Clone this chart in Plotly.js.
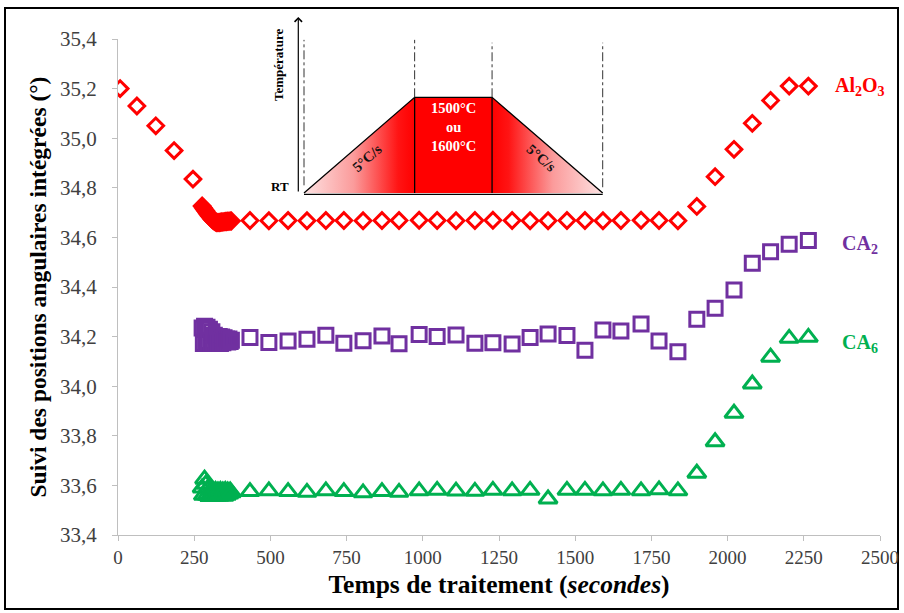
<!DOCTYPE html>
<html><head><meta charset="utf-8">
<script src="https://cdn.plot.ly/plotly-3.0.1.min.js"></script>
<style>body{margin:0;background:#fff}#chart{width:904px;height:613px}</style>
</head><body><div id="chart"></div>
<script>
// ---------- data ----------
const heatTimes = [7, 62, 124, 184, 246];
const al2o3Heat = [35.20, 35.13, 35.05, 34.95, 34.835];

const clusterTimes = [276, 280, 284, 288, 292, 296, 300, 304, 308, 312, 316, 320, 324, 328, 332, 336, 340, 344, 348, 352, 356, 360, 364, 368, 372];
const al2o3Cluster = [34.727, 34.720, 34.713, 34.706, 34.699, 34.692, 34.686, 34.680, 34.674, 34.669, 34.665, 34.662, 34.660, 34.660, 34.660, 34.661, 34.662, 34.662, 34.663, 34.664, 34.664, 34.665, 34.665, 34.666, 34.666];
const ca2Cluster = [34.235, 34.172, 34.242, 34.175, 34.238, 34.180, 34.230, 34.172, 34.220, 34.175, 34.205, 34.172, 34.200, 34.175, 34.200, 34.172, 34.198, 34.175, 34.195, 34.180, 34.190, 34.178, 34.190, 34.180, 34.185];
const ca6Cluster = [33.590, 33.560, 33.625, 33.605, 33.560, 33.590, 33.555, 33.580, 33.558, 33.578, 33.556, 33.580, 33.557, 33.578, 33.556, 33.580, 33.558, 33.578, 33.556, 33.580, 33.560, 33.578, 33.565, 33.578, 33.570];

const holdTimes = [433, 495, 558, 620, 682, 741, 804, 866, 922, 988, 1047, 1109, 1171, 1230, 1293, 1352, 1411, 1473, 1532, 1591, 1650, 1716, 1775, 1837];
const al2o3Hold = [34.668, 34.667, 34.668, 34.667, 34.668, 34.668, 34.667, 34.668, 34.668, 34.669, 34.668, 34.667, 34.668, 34.669, 34.668, 34.667, 34.667, 34.668, 34.668, 34.667, 34.668, 34.669, 34.668, 34.667];
const ca2Hold = [34.196, 34.176, 34.182, 34.189, 34.205, 34.173, 34.183, 34.202, 34.171, 34.208, 34.200, 34.206, 34.173, 34.175, 34.170, 34.196, 34.210, 34.204, 34.145, 34.227, 34.223, 34.251, 34.182, 34.139];
const ca6Hold = [33.575, 33.578, 33.575, 33.572, 33.578, 33.575, 33.570, 33.575, 33.572, 33.578, 33.580, 33.577, 33.576, 33.580, 33.578, 33.580, 33.545, 33.580, 33.580, 33.578, 33.580, 33.578, 33.582, 33.578];

const coolTimes = [1899, 1959, 2021, 2081, 2141, 2202, 2265];
const al2o3Cool = [34.725, 34.845, 34.955, 35.060, 35.152, 35.210, 35.210];
const ca2Cool = [34.270, 34.314, 34.388, 34.496, 34.542, 34.572, 34.587];
const ca6Cool = [33.649, 33.776, 33.891, 34.009, 34.117, 34.193, 34.197];

const seriesNames = ['Al<sub>2</sub>O<sub>3</sub>', 'CA<sub>2</sub>', 'CA<sub>6</sub>'];
const seriesColors = ['#FF0000', '#7030A0', '#00B050'];

const xTickVals = [0, 250, 500, 750, 1000, 1250, 1500, 1750, 2000, 2250, 2500];
const yTickVals = [33.4, 33.6, 33.8, 34.0, 34.2, 34.4, 34.6, 34.8, 35.0, 35.2, 35.4];
const yTickText = ['33,4', '33,6', '33,8', '34,0', '34,2', '34,4', '34,6', '34,8', '35,0', '35,2', '35,4'];

// inset schematic (heating / hold / cooling)
const schemeX = [0, 1, 1.7, 2.7];
const schemeY = [0, 1, 1, 0];
const holdLabel = '1500°C<br>ou<br>1600°C';
const rampLabel = '5°C/s';

// ---------- build ----------
const serif = 'Liberation Serif, Times New Roman, serif';
function series(name, xs, ys, symbol, size, color) {
  return {type: 'scatter', mode: 'markers', name: name, x: xs, y: ys, hoverinfo: 'x+y',
    marker: {symbol: symbol, size: size, color: color, line: {width: 3, color: color}}};
}
const traces = [
  series(seriesNames[0], [].concat(heatTimes, clusterTimes, holdTimes, coolTimes),
         [].concat(al2o3Heat, al2o3Cluster, al2o3Hold, al2o3Cool), 'diamond-open', 12, seriesColors[0]),
  series(seriesNames[1], [].concat(clusterTimes, holdTimes, coolTimes),
         [].concat(ca2Cluster, ca2Hold, ca2Cool), 'square-open', 14, seriesColors[1]),
  series(seriesNames[2], [].concat(clusterTimes, holdTimes, coolTimes),
         [].concat(ca6Cluster, ca6Hold, ca6Cool), 'triangle-up-open', 16, seriesColors[2])
];

// inset traces
const pale = '#fde2e2';
const inset = {xaxis: 'x2', yaxis: 'y2', hoverinfo: 'skip', showlegend: false, type: 'scatter'};
traces.push(Object.assign({}, inset, {
  x: [schemeX[0], schemeX[1], schemeX[1], schemeX[0]], y: [schemeY[0], schemeY[1], schemeY[0], schemeY[0]],
  mode: 'lines', fill: 'toself', line: {width: 0},
  fillgradient: {type: 'horizontal', colorscale: [[0, pale], [0.45, '#fb9b9b'], [0.85, '#ff1414'], [1, '#ff0000']]}
}));
traces.push(Object.assign({}, inset, {
  x: [schemeX[1], schemeX[1], schemeX[2], schemeX[2], schemeX[1]], y: [schemeY[0], schemeY[1], schemeY[2], schemeY[3], schemeY[0]],
  mode: 'lines', fill: 'toself', fillcolor: '#ff0000', line: {width: 0}
}));
traces.push(Object.assign({}, inset, {
  x: [schemeX[2], schemeX[3], schemeX[2], schemeX[2]], y: [schemeY[2], schemeY[3], schemeY[3], schemeY[2]],
  mode: 'lines', fill: 'toself', line: {width: 0},
  fillgradient: {type: 'horizontal', colorscale: [[0, '#ff0000'], [0.15, '#ff1414'], [0.55, '#fb9b9b'], [1, pale]]}
}));
// outline + dividers + baseline
traces.push(Object.assign({}, inset, {
  x: schemeX.concat([null, schemeX[1], schemeX[1], null, schemeX[2], schemeX[2], null, schemeX[0], schemeX[3]]),
  y: schemeY.concat([null, 0, 1, null, 0, 1, null, -0.015, -0.015]),
  mode: 'lines', line: {color: '#000', width: 1.3}
}));
// dash-dot guides
traces.push(Object.assign({}, inset, {
  x: [schemeX[0], schemeX[0], null, schemeX[1], schemeX[1], null, schemeX[2], schemeX[2], null, schemeX[3], schemeX[3]],
  y: [0.08, 1.6, null, 1, 1.6, null, 1, 1.57, null, 0.06, 1.57],
  mode: 'lines', line: {color: '#333', width: 1, dash: 'dashdot'}
}));

const annFont = (size, color) => ({family: serif, size: size, color: color});
const annotations = [
  {x: 2345, y: 35.208, xref: 'x', yref: 'y', text: '<b>' + seriesNames[0] + '</b>', showarrow: false, xanchor: 'left', font: annFont(20, seriesColors[0])},
  {x: 2369, y: 34.57, xref: 'x', yref: 'y', text: '<b>' + seriesNames[1] + '</b>', showarrow: false, xanchor: 'left', font: annFont(20, seriesColors[1])},
  {x: 2369, y: 34.173, xref: 'x', yref: 'y', text: '<b>' + seriesNames[2] + '</b>', showarrow: false, xanchor: 'left', font: annFont(20, seriesColors[2])},
  // inset texts
  {x: -0.235, y: 1.337, xref: 'x2', yref: 'y2', text: '<b>Température</b>', textangle: -90, showarrow: false, font: annFont(13, '#000')},
  {x: -0.215, y: 0.07, xref: 'x2', yref: 'y2', text: '<b>RT</b>', showarrow: false, font: annFont(13, '#000')},
  {x: (schemeX[1] + schemeX[2]) / 2, y: 0.69, xref: 'x2', yref: 'y2', text: '<b>' + holdLabel + '</b>', showarrow: false, font: annFont(14.5, '#fff')},
  {x: 0.567, y: 0.37, xref: 'x2', yref: 'y2', text: '<b>' + rampLabel + '</b>', textangle: -41, showarrow: false, font: annFont(14.5, '#111')},
  {x: 2.149, y: 0.37, xref: 'x2', yref: 'y2', text: '<b>' + rampLabel + '</b>', textangle: 41, showarrow: false, font: annFont(14.5, '#111')},
  // temperature axis arrow of the inset
  {x: (298.3 - 118) / 762, y: (535 - 17) / 496, xref: 'paper', yref: 'paper', ax: 0, ay: 176, showarrow: true,
   arrowhead: 4, arrowsize: 1.2, arrowwidth: 1.2, arrowcolor: '#000', text: ''}
];

const layout = {
  width: 904, height: 613,
  margin: {l: 118, r: 24, t: 39, b: 78},
  paper_bgcolor: '#ffffff', plot_bgcolor: 'rgba(0,0,0,0)',
  showlegend: false,
  font: {family: serif, color: '#404040'},
  xaxis: {
    range: [0, 2500], tickvals: xTickVals, ticktext: xTickVals.map(String),
    showgrid: false, zeroline: false, showline: true, linecolor: '#bfbfbf', linewidth: 1,
    ticks: 'outside', ticklen: 5, tickcolor: '#bfbfbf', tickfont: {family: serif, size: 19, color: '#404040'},
    title: {text: '<b>Temps de traitement (<i>secondes</i>)</b>', font: {family: serif, size: 25.5, color: '#000'}, standoff: 8}
  },
  yaxis: {
    range: [33.4, 35.4], tickvals: yTickVals, ticktext: yTickText,
    showgrid: false, zeroline: false, showline: true, linecolor: '#bfbfbf', linewidth: 1,
    ticks: 'outside', ticklen: 5, tickcolor: '#bfbfbf', ticklabelstandoff: 11,
    tickfont: {family: serif, size: 21, color: '#404040'},
    title: {text: '<b>Suivi des positions angulaires intégrées (°)</b>', font: {family: serif, size: 23.5, color: '#000'}, standoff: 6}
  },
  xaxis2: {domain: [(270 - 118) / 762, (610 - 118) / 762], range: [-0.3073, 2.766], visible: false, anchor: 'y2', fixedrange: true},
  yaxis2: {domain: [(535 - 195) / 496, 1], range: [-0.0209, 1.609], visible: false, anchor: 'x2', fixedrange: true},
  annotations: annotations,
  shapes: [
    {type: 'rect', xref: 'paper', yref: 'paper', x0: (5 - 118) / 762, x1: (898 - 118) / 762, y0: (535 - 609) / 496, y1: (535 - 8) / 496,
     line: {color: '#000', width: 2}, fillcolor: 'rgba(0,0,0,0)', layer: 'below'}
  ]
};

Plotly.newPlot('chart', traces, layout, {displayModeBar: false, staticPlot: true});
</script>
</body></html>
